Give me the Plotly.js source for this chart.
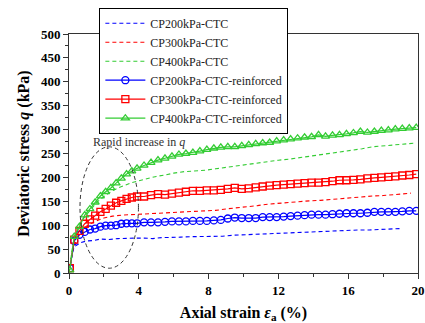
<!DOCTYPE html>
<html>
<head>
<meta charset="utf-8">
<script src="https://cdn.plot.ly/plotly-3.0.1.min.js"></script>
<style>html,body{margin:0;padding:0;background:#fff;}#chart{width:425px;height:323px;}</style>
</head>
<body>
<div id="chart"></div>
<script>
// Unreinforced (dashed) curves
var x200 = [0,0.1,0.2,0.3,0.5,0.7,1.0,1.4,1.8,2.3,2.8,3.3,3.8,4.3,4.8,5.3,5.8,6.4,7.0,7.6,8.2,8.8,9.4,10,10.6,11.2,11.8,12.4,13,13.6,14.2,14.8,15.4,16,16.6,17.2,17.8,18.4,19.0];
var y200 = [0,25,42,55,60,64,67,68,71,70,72,73,73,73,72,74,74,75,76,76,77,77,79,80,81,82,83,84,85,86,87,87,88,89,90,90,91,92,93];
var x300 = [0,0.1,0.2,0.3,0.5,0.7,1.0,1.5,2.0,2.5,3.0,3.5,4.0,4.5,5.0,5.5,6.0,6.6,7.2,7.8,8.4,9.0,9.6,10.2,10.8,11.4,12.0,12.6,13.2,13.8,14.4,15.0,15.6,16.2,16.8,17.4,18.0,18.6,19.2,19.6];
var y300 = [0,25,45,58,75,88,98,108,115,119,121,122,124,125,126,126,127,128,129,130,131,134,136,139,141,144,146,147,149,151,152,154,156,157,159,161,162,164,166,167];
var x400 = [0,0.1,0.2,0.3,0.5,0.7,1.0,1.3,1.6,2.0,2.4,2.8,3.2,3.6,4.0,4.5,5.0,5.5,6.0,6.6,7.2,7.8,8.4,9.0,9.6,10.2,10.8,11.4,12.0,12.6,13.2,13.8,14.4,15.0,15.6,16.2,16.8,17.4,18.0,18.6,19.2,19.9];
var y400 = [0,30,55,72,92,108,122,135,148,160,170,178,184,189,193,198,202,205,209,212,213,215,218,221,225,228,231,233,236,238,241,244,247,250,253,256,260,264,266,268,270,272];
// Reinforced (marker) curves share strain positions
var xR = [0.05,0.3,0.6,0.9,1.2,1.5,1.8,2.1,2.4,2.7,3.0,3.3,3.6,3.9,4.3,4.7,5.1,5.5,5.9,6.3,6.7,7.1,7.5,7.9,8.3,8.7,9.1,9.5,9.9,10.3,10.7,11.1,11.5,11.9,12.3,12.7,13.1,13.5,13.9,14.3,14.7,15.1,15.5,15.9,16.3,16.7,17.1,17.5,17.9,18.3,18.7,19.1,19.5,19.9];
var y200R = [10,67,80,86,91,93,97,99,99,100,103,104,104,104,106,106,106,107,108,108,108,109,109,109,110,111,114,116,115,115,115,117,117,117,118,119,120,121,122,122,122,123,124,125,125,125,126,128,128,128,128,129,130,130];
var y300R = [10,70,88,103,112,120,128,134,141,147,151,155,158,160,160,163,165,164,166,168,170,172,172,173,173,174,176,178,176,177,179,181,183,184,185,186,187,188,189,189,190,192,194,194,195,196,198,199,200,201,202,204,205,207];
var y400R = [6,76,97,121,134,148,161,170,178,188,198,207,213,219,225,231,236,240,244,248,250,252,255,258,261,263,264,264,266,268,270,272,273,276,278,280,282,284,285,289,286,288,289,291,293,296,294,296,298,299,301,302,303,304];
var names = ['CP200kPa-CTC','CP300kPa-CTC','CP400kPa-CTC','CP200kPa-CTC-reinforced','CP300kPa-CTC-reinforced','CP400kPa-CTC-reinforced'];
var xTicks = [0,4,8,12,16,20];
var yTicks = [0,50,100,150,200,250,300,350,400,450,500];

var blue='#0000ff', red='#ff0000', green='#33cc33';
var dash='4px,3px';
var FAM = 'Liberation Serif';
var traces = [
  {x:x200,y:y200,name:names[0],mode:'lines',line:{color:blue,width:1.1,dash:dash}},
  {x:x300,y:y300,name:names[1],mode:'lines',line:{color:red,width:1.1,dash:dash}},
  {x:x400,y:y400,name:names[2],mode:'lines',line:{color:green,width:1.1,dash:dash}},
  {x:xR,y:y200R,name:names[3],mode:'lines+markers',line:{color:blue,width:1.2},marker:{symbol:'circle-open',size:7,color:blue,line:{width:1.3,color:blue}}},
  {x:xR,y:y300R,name:names[4],mode:'lines+markers',line:{color:red,width:1.2},marker:{symbol:'square-open',size:7,color:red,line:{width:1.3,color:red}}},
  {x:xR,y:y400R,name:names[5],mode:'lines+markers',line:{color:green,width:1.2},marker:{symbol:'triangle-up-open',size:7,color:green,line:{width:1.3,color:green}}}
];
var layout = {
  width:425, height:323,
  margin:{l:68.5,r:7,t:34,b:50},
  paper_bgcolor:'#fff', plot_bgcolor:'#fff',
  font:{family:FAM,color:'#000'},
  showlegend:true,
  legend:{x:0.087,y:1.11,xanchor:'left',yanchor:'top',bgcolor:'#fff',bordercolor:'#000',borderwidth:1,
          font:{family:FAM,size:12,color:'#222'},itemwidth:40,tracegroupgap:0},
  xaxis:{range:[0,20],tickvals:xTicks,ticktext:xTicks.map(String),ticks:'outside',ticklen:5,tickwidth:1,tickcolor:'#333',
         showline:true,linecolor:'#333',linewidth:1,mirror:true,showgrid:false,zeroline:false,
         minor:{dtick:2,ticks:'outside',ticklen:3,tickcolor:'#333',showgrid:false},
         tickfont:{family:FAM,size:13,color:'#000',weight:'bold'},
         title:{text:'<b>Axial strain <i>ε</i><sub>a</sub> (%)</b>',font:{family:FAM,size:16,color:'#000'},standoff:10}},
  yaxis:{range:[0,500],tickvals:yTicks,ticktext:yTicks.map(String),ticks:'outside',ticklen:5,tickwidth:1,tickcolor:'#333',
         showline:true,linecolor:'#333',linewidth:1,mirror:true,showgrid:false,zeroline:false,
         minor:{dtick:25,ticks:'outside',ticklen:3,tickcolor:'#333',showgrid:false},
         tickfont:{family:FAM,size:13,color:'#000',weight:'bold'},
         title:{text:'<b>Deviatoric stress <i>q</i> (kPa)</b>',font:{family:FAM,size:16,color:'#000'},standoff:7}},
  shapes:[{type:'circle',xref:'x',yref:'y',x0:0.63,x1:3.98,y0:10,y1:264,line:{color:'#333',width:1,dash:'4px,3px'}}],
  annotations:[{x:4.03,y:274,xref:'x',yref:'y',text:'Rapid increase in <i>q</i>',showarrow:false,
                font:{family:FAM,size:12,color:'#333'}}]
};
Plotly.newPlot('chart',traces,layout,{displayModeBar:false,staticPlot:true});
</script>
</body>
</html>
